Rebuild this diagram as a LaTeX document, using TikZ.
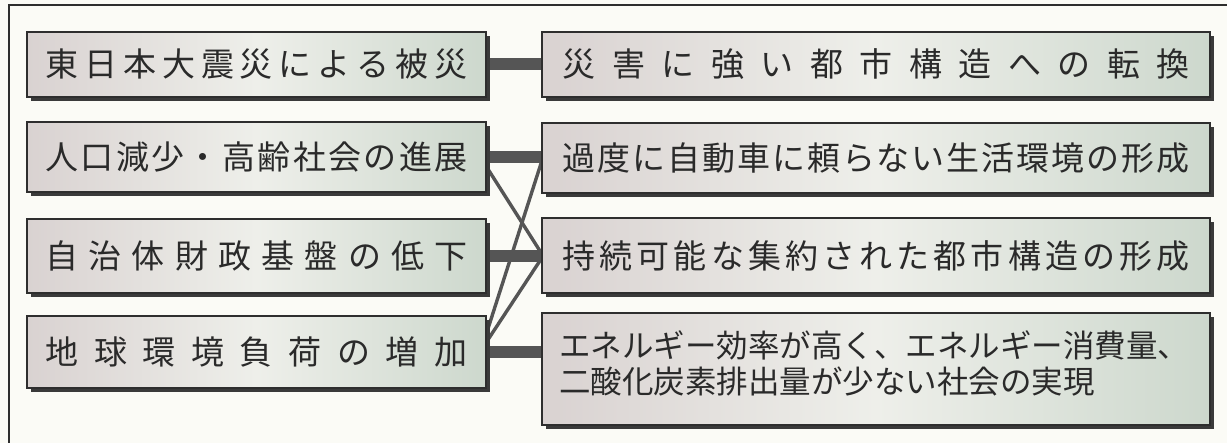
\documentclass[tikz,border=0pt]{standalone}
\usepackage{fontspec}
\newfontfamily\jp{Noto Sans CJK JP}
\usetikzlibrary{shadows,calc,backgrounds}
\def\sprEnd{}
\def\spr#1{\sprA#1\sprEnd}
\def\sprA#1#2{#1\ifx#2\sprEnd\else\hfill\expandafter\sprA\expandafter#2\fi}
\definecolor{bgc}{HTML}{FBFBF6}
\definecolor{linec}{HTML}{2E2E2E}
\definecolor{shadowc}{HTML}{3A3A3A}
\definecolor{barc}{HTML}{555555}
\definecolor{boxL}{HTML}{D9D2D1}
\definecolor{boxM}{HTML}{EEEFEA}
\definecolor{boxR}{HTML}{CDD8CD}
\definecolor{txtc}{HTML}{2A2A2A}
\begin{document}
\begin{tikzpicture}[x=1pt,y=-1pt,
  box/.style={draw=linec, line width=1.2pt, inner sep=0pt,
    left color=boxL, right color=boxR, middle color=boxM,
    general shadow={fill=shadowc, shadow xshift=4pt, shadow yshift=-4pt},
    text=txtc, font=\jp\fontsize{33}{36}\selectfont},
  lbox/.style={box, minimum width=459pt},
  rbox/.style={box, minimum width=668pt},
  bar/.style={draw=barc, line width=12pt},
  thin/.style={draw=barc, line width=3.4pt},
  frame/.style={draw=linec, line width=1.8pt}]
\useasboundingbox (0,0) rectangle (1227,443);
% left boxes
\node[lbox, minimum height=65pt] (L1) at (256.5,64.5) {\hbox to 422pt{\spr{東日本大震災による被災}}};
\node[lbox, minimum height=70pt] (L2) at (256.5,157) {\hbox to 422pt{\spr{人口減少・高齢社会の進展}}};
\node[lbox, minimum height=74pt] (L3) at (256.5,256) {\hbox to 422pt{\spr{自治体財政基盤の低下}}};
\node[lbox, minimum height=72pt] (L4) at (256.5,352) {\hbox to 422pt{\spr{地球環境負荷の増加}}};
% right boxes
\node[rbox, minimum height=65pt] (R1) at (876,64.5) {\hbox to 627pt{\spr{災害に強い都市構造への転換}}};
\node[rbox, minimum height=70pt] (R2) at (876,158) {\hbox to 627pt{\spr{過度に自動車に頼らない生活環境の形成}}};
\node[rbox, minimum height=75pt] (R3) at (876,255.5) {\hbox to 627pt{\spr{持続可能な集約された都市構造の形成}}};
\node[rbox, minimum height=112pt] (R4) at (876,369) {};
\node[anchor=west, align=left, inner sep=0pt, text=txtc,
  font=\jp\fontsize{31.5}{36}\selectfont] (R4t) at (559,363)
  {エネルギー効率が高く、エネルギー消費量、\\二酸化炭素排出量が少ない社会の実現};
\begin{scope}[on background layer]
  \fill[bgc] (0,0) rectangle (1227,443);
  \draw[frame] (9,443) -- (9,5) -- (1227,5);
  \draw[bar] (L1.east) -- (L1.east -| R1.west);
  \draw[bar] (L2.east) -- (L2.east -| R2.west);
  \draw[bar] (L3.east) -- (L3.east -| R3.west);
  \draw[bar] (L4.east) -- (L4.east -| R4.west);
  \draw[thin] ($(L2.north east)!0.64!(L2.south east)$) -- ($(R3.north west)!0.47!(R3.south west)$);
  \draw[thin] ($(R2.north west)!0.56!(R2.south west)$) -- ($(L4.north east)!0.24!(L4.south east)$);
  \draw[thin] ($(L4.north east)!0.36!(L4.south east)$) -- ($(R3.north west)!0.54!(R3.south west)$);
\end{scope}
\end{tikzpicture}
\end{document}
